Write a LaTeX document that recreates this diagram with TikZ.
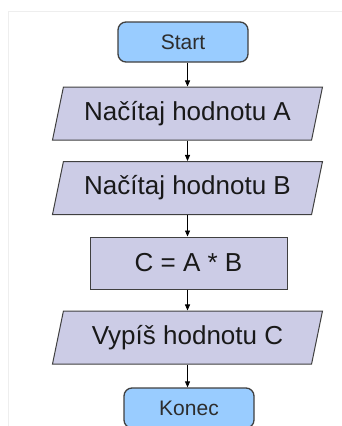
\documentclass[tikz,border=0pt]{standalone}
\usepackage{fontspec}
\setmainfont{Liberation Sans}
\usetikzlibrary{shapes.geometric,arrows.meta}
\definecolor{termfill}{RGB}{153,204,255}
\definecolor{iofill}{RGB}{204,204,230}
\definecolor{edge}{RGB}{64,64,64}
\definecolor{txt}{RGB}{25,25,25}
\definecolor{termtxt}{RGB}{45,45,45}
\definecolor{frame}{RGB}{238,238,238}
\tikzset{
  x=1pt, y=1pt,
  term/.style={draw=edge, line width=1.3pt, fill=termfill, rounded corners=8pt,
    minimum width=130pt, minimum height=40pt, inner sep=0pt,
    font=\fontsize{21}{25}\selectfont, text=termtxt},
  iobox/.style={trapezium, trapezium left angle=66, trapezium right angle=114,
    trapezium stretches body=true, draw=edge, line width=1pt, fill=iofill,
    minimum width=270pt, minimum height=53pt, inner sep=0pt,
    font=\fontsize{26}{31}\selectfont, text=txt},
  procbox/.style={rectangle, draw=edge, line width=1pt, fill=iofill,
    minimum width=197pt, minimum height=52pt, inner sep=0pt,
    font=\fontsize{26}{31}\selectfont, text=txt},
  arr/.style={draw=black, line width=0.8pt, -{Triangle[length=6pt,width=5pt]}}
}
\begin{document}
\begin{tikzpicture}
\useasboundingbox (0,0) rectangle (342,-426);
\draw[frame, line width=0.8pt] (342,-11) -- (8,-11) -- (8,-426);
\node[term] (s) at (183,-42) {Start};
\node[iobox] (a) at (187.5,-113.5) {Načítaj hodnotu A};
\node[iobox] (b) at (187.5,-188) {Načítaj hodnotu B};
\node[procbox] (c) at (188.5,-263) {C = A * B};
\node[iobox] (v) at (187.5,-337.5) {Vypíš hodnotu C};
\node[term] (k) at (189,-408) {Konec};
\draw[arr] (s.south -| a.north) -- (a.north);
\draw[arr] (a.south) -- (b.north);
\draw[arr] (b.south) -- (c.north -| b.south);
\draw[arr] (c.south -| v.north) -- (v.north);
\draw[arr] (v.south) -- (k.north -| v.south);
\end{tikzpicture}
\end{document}
